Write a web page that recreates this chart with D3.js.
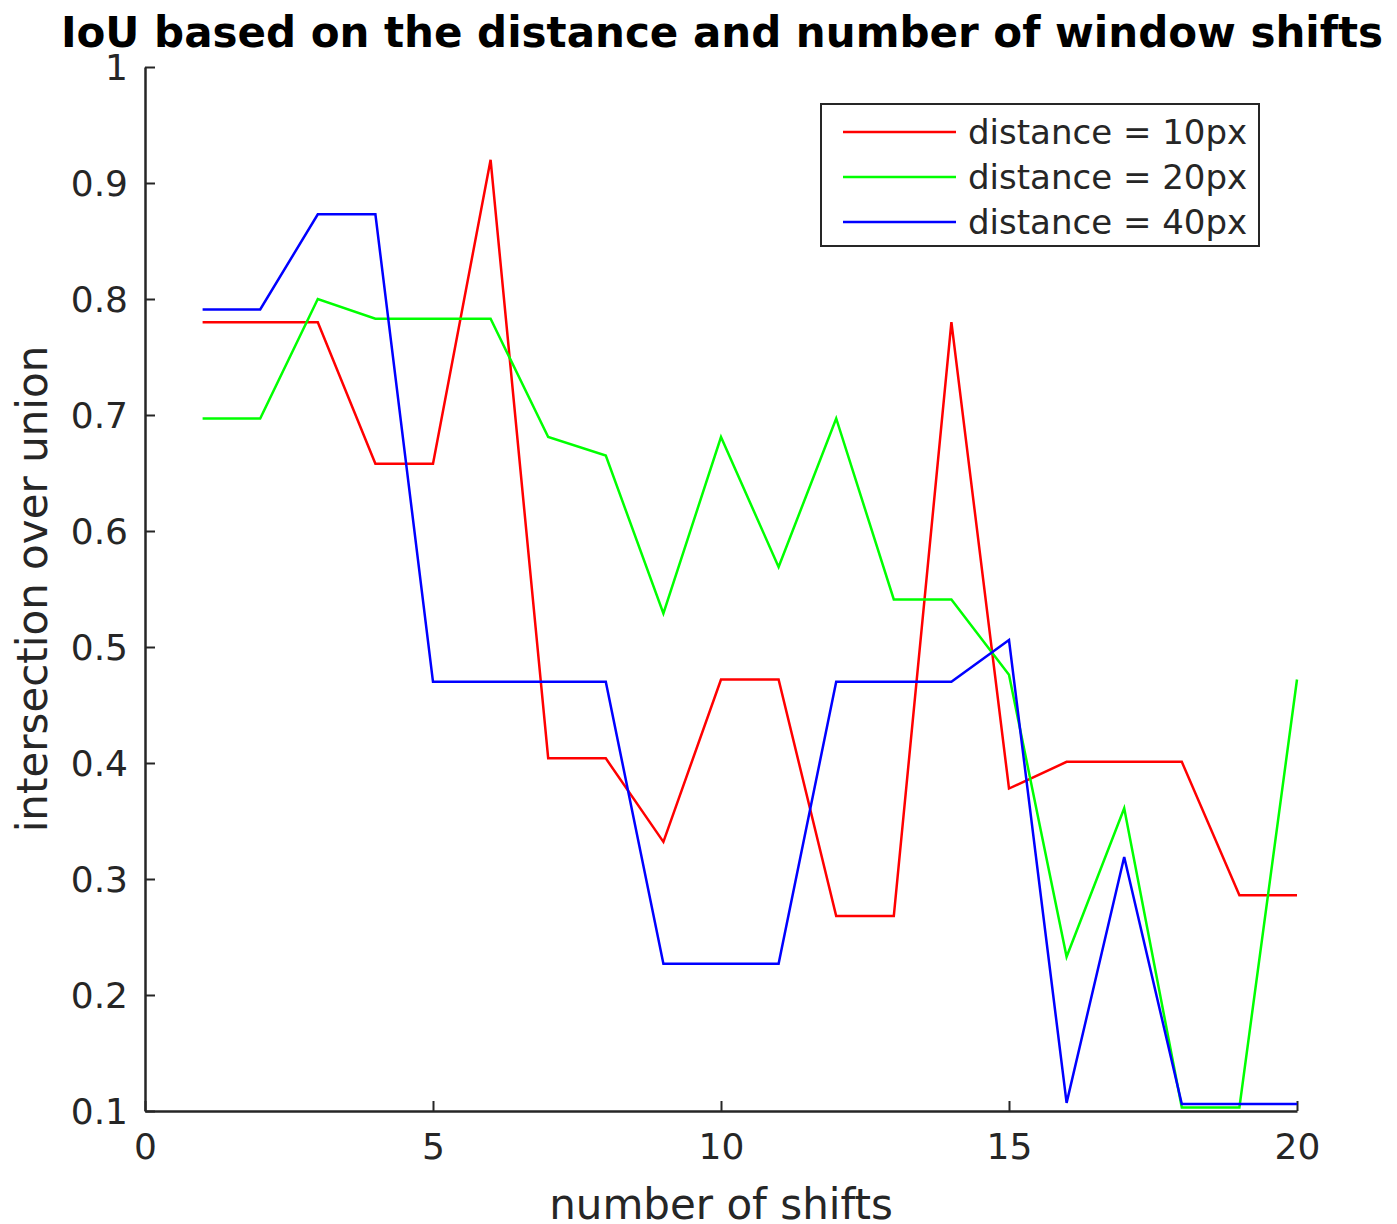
<!DOCTYPE html>
<html>
<head>
<meta charset="utf-8">
<script src="https://cdn.jsdelivr.net/npm/d3@7"></script>
<style>
  body { margin: 0; background: #fff; }
  text { font-family: "DejaVu Sans", sans-serif; }
</style>
</head>
<body>
<div id="chart"></div>
<script>
// number of shifts (x) and IoU values
const shifts = [1,2,3,4,5,6,7,8,9,10,11,12,13,14,15,16,17,18,19,20];
const dist10 = [0.78,0.78,0.78,0.658,0.658,0.92,0.404,0.404,0.332,0.472,0.472,0.268,0.268,0.78,0.378,0.401,0.401,0.401,0.286,0.286];
const dist20 = [0.697,0.697,0.80,0.783,0.783,0.783,0.681,0.665,0.529,0.681,0.569,0.697,0.541,0.541,0.476,0.233,0.361,0.103,0.103,0.472];
const dist40 = [0.791,0.791,0.873,0.873,0.47,0.47,0.47,0.47,0.227,0.227,0.227,0.47,0.47,0.47,0.506,0.107,0.319,0.106,0.106,0.106];
const seriesNames = ["distance = 10px", "distance = 20px", "distance = 40px"];
const seriesColors = ["#ff0000", "#00ff00", "#0000ff"];
const xTicks = [0, 5, 10, 15, 20];
const yTicks = [0.1, 0.2, 0.3, 0.4, 0.5, 0.6, 0.7, 0.8, 0.9, 1];

const width = 1397, height = 1224;
const margin = {left: 145, right: 100, top: 67, bottom: 113};

const svg = d3.select("#chart").append("svg")
  .attr("width", width)
  .attr("height", height);

const x = d3.scaleLinear().domain([0, 20]).range([margin.left, width - margin.right]);
const y = d3.scaleLinear().domain([0.1, 1]).range([height - margin.bottom, margin.top]);

const axisColor = "#262626";

// x axis, ticks pointing inward
const xAxis = svg.append("g")
  .attr("transform", `translate(0,${height - margin.bottom})`)
  .call(d3.axisBottom(x).tickValues(xTicks).tickSizeInner(-10).tickSizeOuter(0).tickPadding(22).tickFormat(d3.format("d")));

// y axis
const yAxis = svg.append("g")
  .attr("transform", `translate(${margin.left},0)`)
  .call(d3.axisLeft(y).tickValues(yTicks).tickSizeInner(-10).tickSizeOuter(0).tickPadding(17).tickFormat(d => d === 1 ? "1" : d3.format(".1f")(d)));

[xAxis, yAxis].forEach(ax => {
  ax.select(".domain").attr("stroke", axisColor).attr("stroke-width", 2.5);
  ax.selectAll(".tick line").attr("stroke", axisColor).attr("stroke-width", 2);
  ax.selectAll(".tick text")
    .attr("fill", axisColor)
    .style("font-size", "36px")
    .style("font-family", "DejaVu Sans, sans-serif");
});
yAxis.selectAll(".tick text").attr("dy", "0.35em");

// lines
const allSeries = [dist10, dist20, dist40];
const line = d3.line()
  .x((d, i) => x(shifts[i]))
  .y(d => y(d));

allSeries.forEach((vals, k) => {
  svg.append("path")
    .datum(vals)
    .attr("fill", "none")
    .attr("stroke", seriesColors[k])
    .attr("stroke-width", 2.5)
    .attr("stroke-linejoin", "miter")
    .attr("d", line);
});

// title
svg.append("text")
  .attr("x", 722)
  .attr("y", 47)
  .attr("text-anchor", "middle")
  .style("font-size", "42px")
  .style("font-weight", "bold")
  .attr("fill", "#000")
  .text("IoU based on the distance and number of window shifts");

// axis labels
svg.append("text")
  .attr("x", x(10))
  .attr("y", 1219)
  .attr("text-anchor", "middle")
  .style("font-size", "42px")
  .attr("fill", axisColor)
  .text("number of shifts");

svg.append("text")
  .attr("transform", `translate(47,${y(0.55)}) rotate(-90)`)
  .attr("text-anchor", "middle")
  .style("font-size", "42px")
  .attr("fill", axisColor)
  .text("intersection over union");

// legend
const legend = svg.append("g").attr("transform", "translate(821,104)");
legend.append("rect")
  .attr("width", 438)
  .attr("height", 142)
  .attr("fill", "#fff")
  .attr("stroke", axisColor)
  .attr("stroke-width", 2);

seriesNames.forEach((name, k) => {
  const yy = 28 + k * 45;
  legend.append("line")
    .attr("x1", 22).attr("x2", 135)
    .attr("y1", yy).attr("y2", yy)
    .attr("stroke", seriesColors[k])
    .attr("stroke-width", 2.5);
  legend.append("text")
    .attr("x", 147)
    .attr("y", yy)
    .attr("dy", "0.35em")
    .style("font-size", "34px")
    .attr("fill", axisColor)
    .text(name);
});
</script>
</body>
</html>
